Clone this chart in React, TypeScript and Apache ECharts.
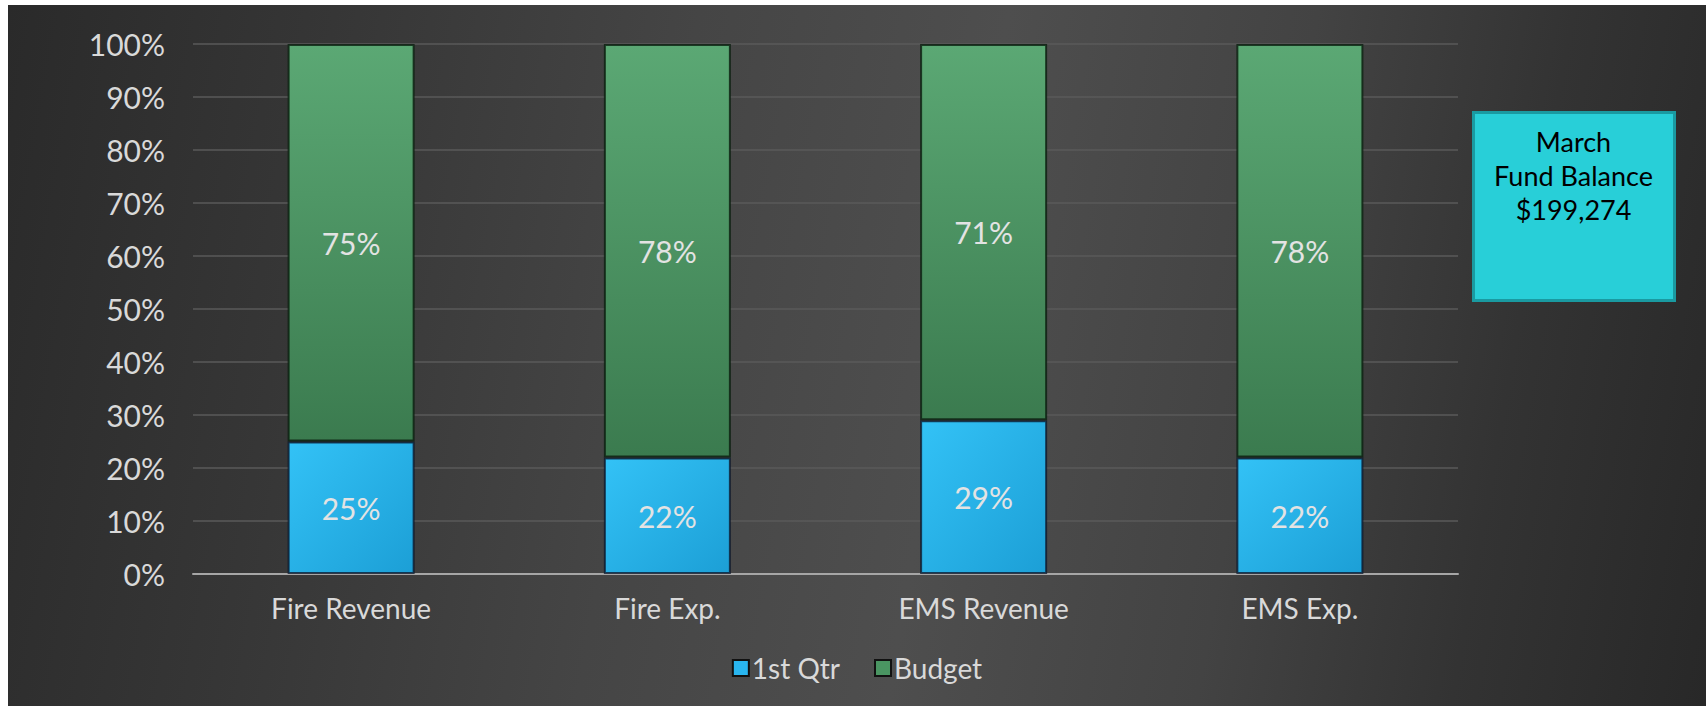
import React, { useEffect, useRef } from "react";
import * as echarts from "echarts";

const categories = ["Fire Revenue", "Fire Exp.", "EMS Revenue", "EMS Exp."];
const firstQtr = [25, 22, 29, 22];
const budget = [75, 78, 71, 78];
const seriesNames = ["1st Qtr", "Budget"];
const boxLines = ["March", "Fund Balance", "$199,274"];

const FONT = "Lato, 'Open Sans', sans-serif";

export default function App() {
  const ref = useRef<HTMLDivElement>(null);
  useEffect(() => {
    if (!ref.current) return;
    const chart = echarts.init(ref.current, null, { renderer: "svg" });
    const blue = new echarts.graphic.LinearGradient(0, 0, 1, 1, [
      { offset: 0, color: "#33c2f6" },
      { offset: 1, color: "#1c9fd6" },
    ]);
    const green = new echarts.graphic.LinearGradient(0, 0, 0, 1, [
      { offset: 0, color: "#5ba874" },
      { offset: 1, color: "#3b7b4f" },
    ]);
    chart.setOption({
      animation: false,
      backgroundColor: "transparent",
      textStyle: { fontFamily: FONT },
      grid: { left: 185, right: 248, top: 39, bottom: 132, containLabel: false },
      legend: {
        top: 644,
        left: "center",
        itemWidth: 16,
        itemHeight: 16,
        itemGap: 34,
        icon: "rect",
        textStyle: { color: "#d9d9d9", fontSize: 28, fontFamily: FONT, padding: [0, 0, 0, -2] },
        data: [
          { name: seriesNames[0], itemStyle: { color: "#29b6f0", borderColor: "#111", borderWidth: 2 } },
          { name: seriesNames[1], itemStyle: { color: "#4a9562", borderColor: "#111", borderWidth: 2 } },
        ],
      },
      xAxis: {
        type: "category",
        data: categories,
        axisTick: { show: false },
        axisLine: { show: true, lineStyle: { color: "#a6a6a6", width: 2 } },
        axisLabel: { color: "#d9d9d9", fontSize: 28, margin: 20, fontFamily: FONT },
      },
      yAxis: {
        type: "value",
        min: 0,
        max: 100,
        interval: 10,
        axisLine: { show: false },
        axisTick: { show: false },
        splitLine: { lineStyle: { color: "#5a5a5a", width: 1.5 } },
        axisLabel: {
          color: "#d9d9d9",
          fontSize: 30,
          margin: 28,
          formatter: "{value}%",
          fontFamily: FONT,
        },
      },
      series: [
        {
          name: seriesNames[0],
          type: "bar",
          stack: "total",
          barWidth: 127,
          data: firstQtr,
          itemStyle: { color: blue, borderColor: "rgba(10,20,40,0.75)", borderWidth: 2 },
          label: {
            show: true,
            position: "inside",
            formatter: "{c}%",
            color: "#e3e3e3",
            fontSize: 30,
            fontFamily: FONT,
          },
        },
        {
          name: seriesNames[1],
          type: "bar",
          stack: "total",
          barWidth: 127,
          data: budget,
          itemStyle: { color: green, borderColor: "rgba(10,30,15,0.8)", borderWidth: 2 },
          label: {
            show: true,
            position: "inside",
            formatter: "{c}%",
            color: "#e3e3e3",
            fontSize: 30,
            fontFamily: FONT,
          },
        },
      ],
      graphic: [
        {
          type: "group",
          left: 1464,
          top: 106,
          children: [
            {
              type: "rect",
              shape: { x: 0, y: 0, width: 201, height: 188 },
              style: { fill: "#28cfd8", stroke: "#1a9aa1", lineWidth: 3 },
            },
            {
              type: "text",
              x: 100,
              y: 12,
              style: {
                text: boxLines.join("\n"),
                fill: "#000",
                fontSize: 27,
                lineHeight: 34,
                fontFamily: FONT,
                align: "center",
                verticalAlign: "top",
              },
            },
          ],
        },
      ],
    });
    return () => chart.dispose();
  }, []);
  return (
    <div
      style={{
        position: "absolute",
        left: 8,
        top: 5,
        width: 1698,
        height: 701,
        background:
          "linear-gradient(100deg, #2a2a2a 0%, #363636 18%, #454545 38%, #4e4e4e 55%, #434343 72%, #333333 86%, #282828 100%)",
      }}
    >
      <div ref={ref} style={{ width: 1698, height: 701 }} />
    </div>
  );
}
